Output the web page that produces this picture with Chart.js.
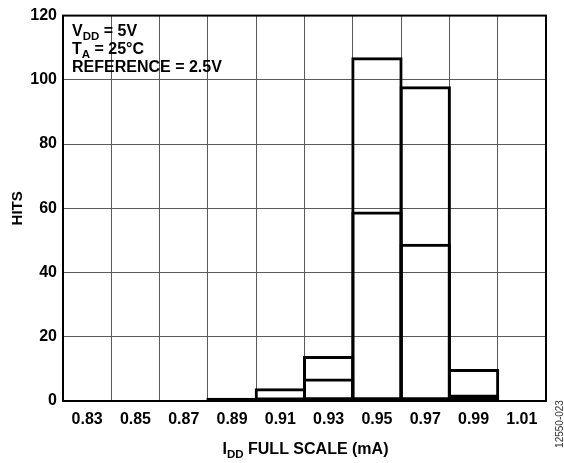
<!DOCTYPE html>
<html>
<head>
<meta charset="utf-8">
<script src="https://cdn.jsdelivr.net/npm/chart.js@4.4.1/dist/chart.umd.min.js"></script>
<style>
  html, body { margin: 0; padding: 0; background: #fff; }
  #wrap { width: 564px; height: 463px; }
</style>
</head>
<body>
<div id="wrap"><canvas id="myChart" width="564" height="463"></canvas></div>
<script>
// histogram bins (mA)
var categories = ["0.83", "0.85", "0.87", "0.89", "0.91", "0.93", "0.95", "0.97", "0.99", "1.01"];
// outer outline (all parts) and inner outline
var totalHits = [0, 0, 0, 1, 4, 14, 107, 98, 10, 0];
var innerHits = [0, 0, 0, 0, 0, 7, 59, 49, 2, 0];
var yTicks = [0, 20, 40, 60, 80, 100, 120];

var FONT = "'Liberation Sans', Arial, Helvetica, sans-serif";

// draw text with a subscript part: parts = [[text, isSub], ...]
function drawParts(ctx, parts, x, y, size, subSize, align) {
  var total = 0;
  parts.forEach(function(p) {
    ctx.font = "bold " + (p[1] ? subSize : size) + "px " + FONT;
    total += ctx.measureText(p[0]).width;
  });
  var cx = align === "center" ? x - total / 2 : x;
  ctx.textAlign = "left";
  ctx.textBaseline = "alphabetic";
  parts.forEach(function(p) {
    ctx.font = "bold " + (p[1] ? subSize : size) + "px " + FONT;
    ctx.fillText(p[0], cx, p[1] ? y + 4 : y);
    cx += ctx.measureText(p[0]).width;
  });
}

var extras = {
  id: "extras",
  afterDraw: function(chart) {
    var ctx = chart.ctx, a = chart.chartArea;
    ctx.save();
    // plot frame
    ctx.strokeStyle = "#000";
    ctx.lineWidth = 2;
    ctx.strokeRect(a.left, a.top, a.right - a.left, a.bottom - a.top);

    ctx.fillStyle = "#000";
    // conditions box text
    drawParts(ctx, [["V", false], ["DD", true], [" = 5V", false]], a.left + 9, 36, 16, 11.5);
    drawParts(ctx, [["T", false], ["A", true], [" = 25°C", false]], a.left + 9, 53.5, 16, 11.5);
    drawParts(ctx, [["REFERENCE = 2.5V", false]], a.left + 9, 71.5, 16, 11.5);

    // x title
    drawParts(ctx, [["I", false], ["DD", true], [" FULL SCALE (mA)", false]], (a.left + a.right) / 2 + 1, 454, 16, 11.5, "center");

    // y title
    ctx.save();
    ctx.translate(17.5, (a.top + a.bottom) / 2);
    ctx.rotate(-Math.PI / 2);
    ctx.font = "bold 15px " + FONT;
    ctx.textAlign = "center";
    ctx.textBaseline = "middle";
    ctx.fillText("HITS", 0, 0);
    ctx.restore();

    // figure id
    ctx.save();
    ctx.translate(560.5, 424);
    ctx.rotate(-Math.PI / 2);
    ctx.font = "10px " + FONT;
    ctx.fillStyle = "#333";
    ctx.textAlign = "center";
    ctx.textBaseline = "middle";
    ctx.fillText("12550-023", 0, 0);
    ctx.restore();
    ctx.restore();
  }
};

var barStyle = {
  backgroundColor: "rgba(0,0,0,0)",
  borderColor: "#000",
  borderWidth: 3,
  borderSkipped: false,
  barPercentage: 1.062,
  categoryPercentage: 1.0
};

new Chart(document.getElementById("myChart"), {
  type: "bar",
  data: {
    labels: categories,
    datasets: [
      Object.assign({ label: "Total", data: totalHits }, barStyle),
      Object.assign({ label: "Inner", data: innerHits }, barStyle)
    ]
  },
  options: {
    responsive: false,
    animation: false,
    layout: { padding: { top: 15, right: 18, left: 0, bottom: 0 } },
    plugins: {
      legend: { display: false },
      tooltip: { enabled: false }
    },
    scales: {
      x: {
        stacked: true,
        afterFit: function(s) { s.height = 62; },
        grid: { color: "#5a5a5a", lineWidth: 1, drawTicks: false, offset: true },
        border: { display: false },
        ticks: { color: "#000", padding: 9, maxRotation: 0, font: { family: FONT, size: 16, weight: "bold" } }
      },
      y: {
        stacked: false,
        min: 0,
        max: 120,
        afterFit: function(s) { s.width = 63; },
        afterBuildTicks: function(s) { s.ticks = yTicks.map(function(v) { return { value: v }; }); },
        grid: { color: "#5a5a5a", lineWidth: 1, drawTicks: false },
        border: { display: false },
        ticks: { color: "#000", padding: 6, font: { family: FONT, size: 16, weight: "bold" } }
      }
    }
  },
  plugins: [extras]
});
</script>
</body>
</html>
